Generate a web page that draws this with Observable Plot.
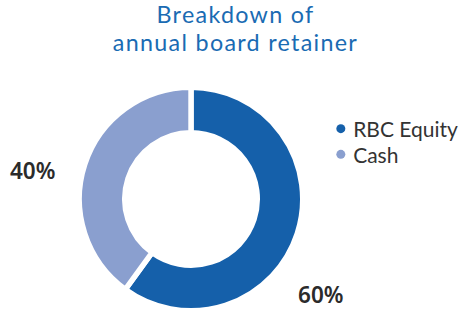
<!DOCTYPE html>
<html><head><meta charset="utf-8">
<script src="https://cdn.jsdelivr.net/npm/d3@7"></script>
<script src="https://cdn.jsdelivr.net/npm/@observablehq/plot@0.6"></script>
<style>
body{margin:0;background:#fff;}
#wrap{position:relative;width:471px;height:309px;overflow:hidden;}
#title{position:absolute;left:0;top:0px;width:471px;text-align:center;font-family:Lato;font-size:23.3px;line-height:28px;letter-spacing:1.3px;color:#1a6bb3;}
#chart{position:absolute;left:0;top:60px;}
</style></head><body>
<div id="wrap"><div id="title"></div><div id="chart"></div></div>
<script>
const titleLines = ["Breakdown of", "annual board retainer"];
const categories = ["RBC Equity", "Cash"];
const shares = [60, 40];
const labels = ["60%", "40%"];
const colors = ["#1560aa", "#8a9fcf"];

document.getElementById("title").innerHTML = titleLines.join("<br>");

const data = categories.map((c, i) => ({category: c, share: shares[i], label: labels[i]}));
const arcs = d3.pie().sort(null).value(d => d.share)(data);

// label placement: along a direction derived from each slice's mid-angle
const labelShift = [18.7, -8].map(a => a * Math.PI / 180);
const labelPos = arcs.map((a, i) => {
  const ang = (a.startAngle + a.endAngle) / 2 + labelShift[i];
  return {x: Math.sin(ang) * 1.48, y: -Math.cos(ang) * 1.48, label: a.data.label};
});

function donut(index, scales) {
  const cx = scales.x(0), cy = scales.y(0);
  const R = scales.x(1) - cx;
  const arc = d3.arc().innerRadius(R * 0.633 - 2.7).outerRadius(R + 2.7);
  const g = d3.create("svg:g").attr("transform", `translate(${cx},${cy})`);
  g.selectAll("path").data(arcs).join("path")
    .attr("d", arc)
    .attr("fill", d => scales.color(d.data.category))
    .attr("stroke", "white")
    .attr("stroke-width", 5.4);
  return g.node();
}

const chart = Plot.plot({
  width: 471,
  height: 249,
  margin: 0,
  style: {background: "transparent", overflow: "visible"},
  x: {domain: [-1, 1], range: [82, 300], axis: null},
  y: {domain: [-1, 1], range: [30, 248], axis: null},
  color: {domain: categories, range: colors},
  marks: [
    donut,
    Plot.dot(categories, {x: () => 1.37, y: (d, i) => -0.65 + i * 0.236, fill: d => d, r: 4.5}),
    Plot.text(categories, {x: () => 1.483, y: (d, i) => -0.65 + i * 0.236, text: d => d, textAnchor: "start",
      fontSize: 21, fill: "#333", fontFamily: "Lato", dy: 1.5}),
    Plot.text(labelPos, {x: "x", y: "y", text: "label", fontSize: 22.5, fontWeight: 600,
      fill: "#2b2b2b", fontFamily: "Noto Sans"})
  ]
});
document.getElementById("chart").appendChild(chart);
</script>
</body></html>
